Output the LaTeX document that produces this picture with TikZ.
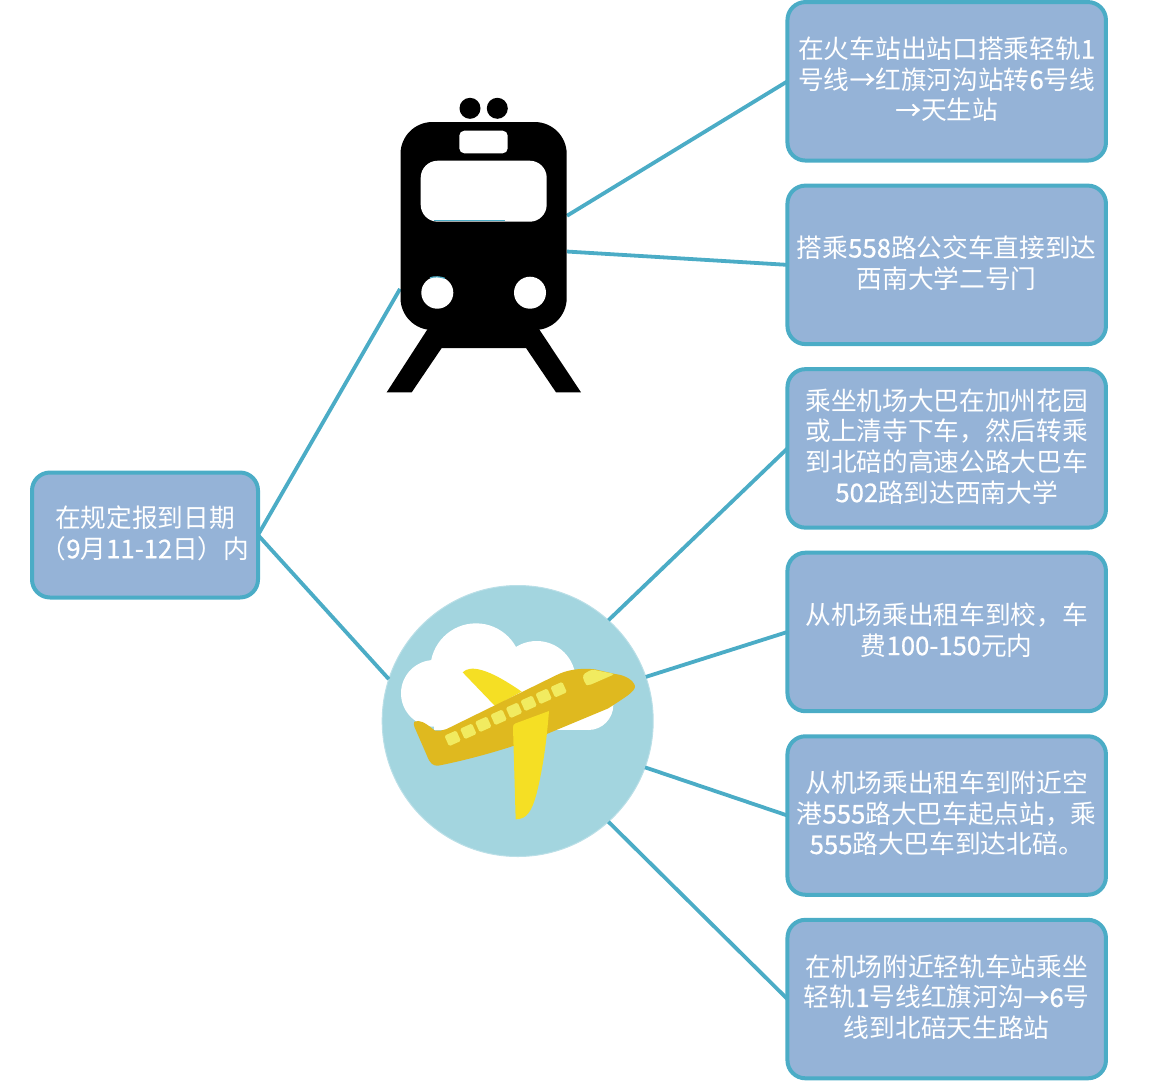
\documentclass[tikz,border=0pt]{standalone}
\usepackage{fontspec}
\setmainfont{Noto Sans CJK SC}
\newfontfamily\numfonte[FakeBold=0.8]{Noto Sans CJK SC}
\definecolor{linha}{HTML}{4BACC6}
\definecolor{caixa}{HTML}{95B3D7}
\definecolor{ceu}{HTML}{A3D5DF}
\definecolor{corpo}{HTML}{DFB91F}
\definecolor{asa}{HTML}{F5DF24}
\definecolor{janela}{HTML}{F1EB60}
\newcommand{\num}[1]{{\numfonte #1}}
\begin{document}
\begin{tikzpicture}
			[x=1pt, y=-1pt, node distance=183.55pt,
			rota/.style		={rectangle, draw=linha, fill=caixa, line width=4pt, rounded corners=18pt, outer sep=0pt,
							text=white, align=center, font=\fontsize{25.7}{30.6}\selectfont, minimum width=318.5pt, minimum height=158.5pt,
							execute at end node={\rule[-6pt]{0pt}{6pt}}},
			inicio/.style	={rota, minimum width=226pt, minimum height=125pt},
			ligacao/.style	={draw=linha, line width=3.8pt},
			vidro/.style	={rectangle, fill=janela, rounded corners=1.5pt, minimum width=13pt, minimum height=11.5pt, inner sep=0pt, rotate=24}]
			\useasboundingbox (0,0) rectangle (1149,1080);
			\node[inicio] 				(ini)	at (145,535)	{在规定报到日期\\（\num{9}月\num{11-12}日）内};
			\node[rota] 				(r1)	at (946.7,81.3)	{在火车站出站口搭乘轻轨\num{1}\\号线\num{→}红旗河沟站转\num{6}号线\\\num{→}天生站};
			\node[rota, below of=r1] 	(r2)	{搭乘\num{558}路公交车直接到达\\西南大学二号门};
			\node[rota, below of=r2] 	(r3)	{乘坐机场大巴在加州花园\\或上清寺下车，然后转乘\\到北碚的高速公路大巴车\\\num{502}路到达西南大学};
			\node[rota, below of=r3] 	(r4)	{从机场乘出租车到校，车\\费\num{100-150}元内};
			\node[rota, below of=r4] 	(r5)	{从机场乘出租车到附近空\\港\num{555}路大巴车起点站，乘\\\num{555}路大巴车到达北碚。};
			\node[rota, below of=r5] 	(r6)	{在机场附近轻轨车站乘坐\\轻轨\num{1}号线红旗河沟\num{→}\num{6}号\\线到北碚天生路站};
			\node[circle, fill=ceu, draw=ceu!75!white, line width=1pt, minimum size=271pt, inner sep=0pt, outer sep=0pt] (aviao) at (517.7,721) {};
			\node[rectangle, minimum width=167pt, minimum height=208pt, inner sep=0pt, outer sep=0pt] (trem) at (483.5,226) {};
			\draw[ligacao] (ini.east) -- (trem.217.5);
			\draw[ligacao] (ini.east) -- (aviao.162.5);
			\draw[ligacao] (trem.7.5) -- (r1.west);
			\draw[ligacao] (trem.-17.9) -- (r2.west);
			\draw[ligacao] (aviao.48) -- (r3.west);
			\draw[ligacao] (aviao.19.5) -- (r4.west);
			\draw[ligacao] (aviao.-20) -- (r5.west);
			\draw[ligacao] (aviao.-48) -- (r6.west);
			\fill (470,108.3) circle (10.5) (497.3,108.3) circle (10.5);
			\fill[rounded corners=32pt] (400.5,122) rectangle (566.7,330);
			\fill (428.3,328) -- (386.7,392.3) -- (411.7,392.3) -- (441.7,348) -- (526,348) -- (556,392.3) -- (581,392.3) -- (538.3,328) -- cycle;
			\fill[white, rounded corners=5pt] (459.3,130.7) rectangle (507.7,153.3);
			\fill[white, rounded corners=17pt] (420.7,160.7) rectangle (546.7,221.7);
			\fill[white] (437.3,292.7) circle (16) (530,292.7) circle (16);
			\draw[linha, line width=1.2pt] (434,220.8) -- (505,220.8);
			\draw[linha, line width=1.2pt] (430,277.8) .. controls (434,276.4) and (440,276.4) .. (445,278.4);
			\begin{scope}[shift={(375,580)}, scale=1/3]
				\fill[white] (178,340) circle (100) (303,267) circle (137) (485,300) circle (117) (640,375) circle (75);
				\fill[white] (178,300) rectangle (640,450);
				\fill[asa] (263,277) .. controls (285,255) and (335,262) .. (440,335) -- (360,378) -- cycle;
				\fill[corpo] (118,425) .. controls (135,418) and (150,428) .. (180,452)
					.. controls (195,453) and (205,451) .. (215,447) -- (545,285)
					.. controls (575,270) and (615,263) .. (660,268) -- (720,282)
					.. controls (750,285) and (775,300) .. (780,318)
					.. controls (782,335) and (745,355) .. (700,385)
					-- (520,460) .. controls (420,500) and (300,535) .. (190,557)
					.. controls (175,558) and (165,552) .. (155,525) -- (118,440)
					.. controls (116,435) and (116,430) .. (118,425) -- cycle;
				\fill[janela, rounded corners=3pt] (650,268) -- (720,282) -- (640,317) -- (630,312) -- (622,285) -- cycle;
				\foreach \n/\jx/\jy in {1/233/475, 2/280/454, 3/325/433, 4/371/412, 5/417/391, 6/461/370, 7/506/349, 8/551/329}
					\node[vidro] (v\n) at (\jx,\jy) {};
				\fill[asa] (522,393) -- (422,430) .. controls (416,432) and (414,436) .. (414,442)
					-- (422,718) .. controls (455,718) and (470,695) .. (485,640)
					.. controls (505,560) and (515,480) .. (522,393) -- cycle;
			\end{scope}
		\end{tikzpicture}
\end{document}
